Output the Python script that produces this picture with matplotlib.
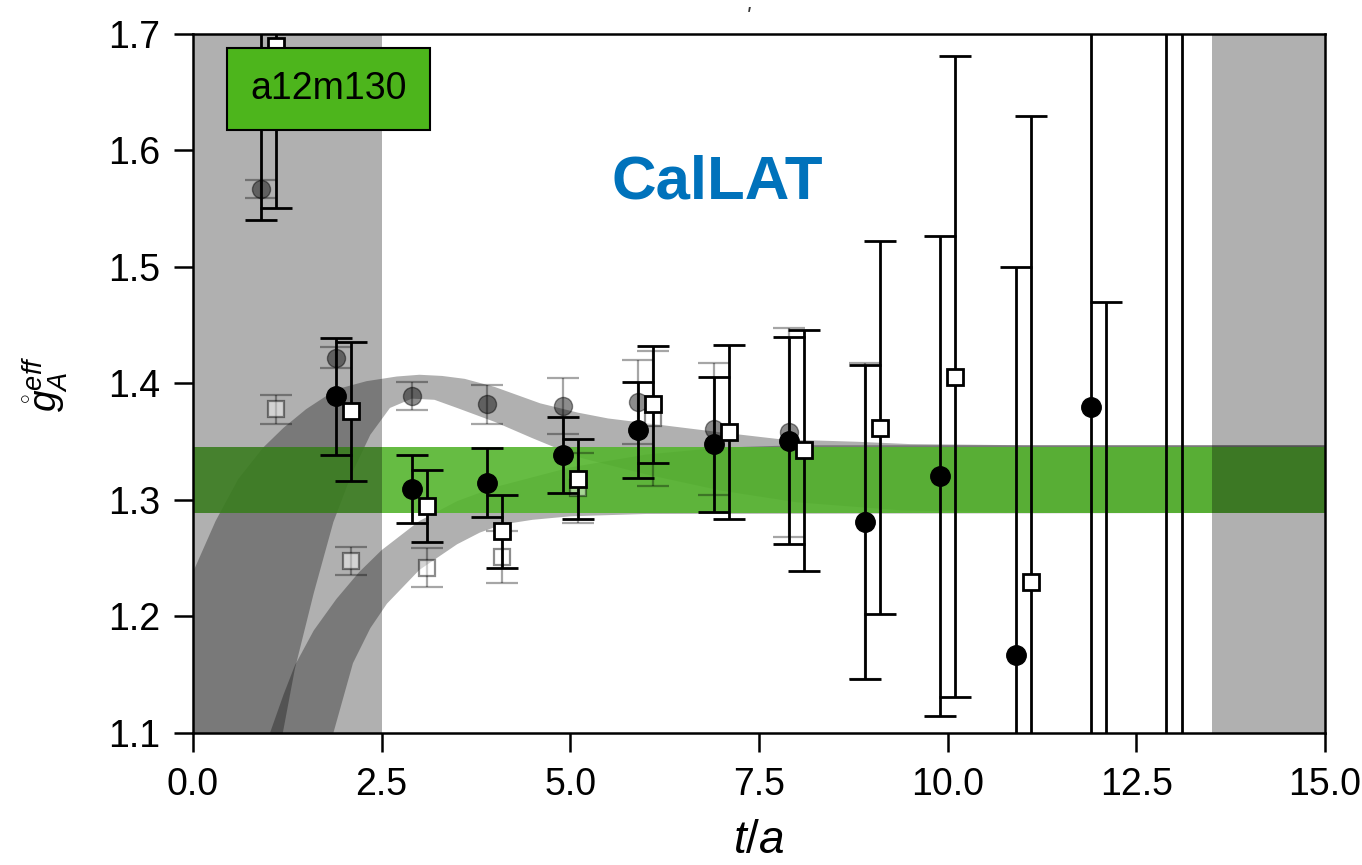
import numpy as np
import matplotlib
matplotlib.use("Agg")
import matplotlib.pyplot as plt

plt.rcParams['font.family'] = ['Liberation Sans', 'DejaVu Sans']
plt.rcParams['mathtext.fontset'] = 'custom'
plt.rcParams['mathtext.rm'] = 'Liberation Sans'
plt.rcParams['mathtext.it'] = 'Liberation Sans:italic'
plt.rcParams['mathtext.bf'] = 'Liberation Sans:bold'

# ---- effective g_A, two source/sink combinations (black = fit window) ----
t_circ = [0.9, 1.9, 2.9, 3.9, 4.9, 5.9, 6.9, 7.9, 8.9, 9.9, 10.9, 11.9, 12.9]
g_circ = [1.660, 1.389, 1.3095, 1.315, 1.3385, 1.360, 1.348, 1.351, 1.281, 1.321, 1.167, 1.380, 1.900]
e_circ = [0.120, 0.050, 0.0295, 0.030, 0.0325, 0.041, 0.058, 0.089, 0.135, 0.206, 0.333, 0.450, 1.000]

t_sq = [1.1, 2.1, 3.1, 4.1, 5.1, 6.1, 7.1, 8.1, 9.1, 10.1, 11.1, 12.1, 13.1]
g_sq = [1.690, 1.376, 1.295, 1.273, 1.318, 1.382, 1.3585, 1.3425, 1.362, 1.406, 1.230, 1.020, 0.900]
e_sq = [0.139, 0.060, 0.031, 0.031, 0.034, 0.050, 0.0745, 0.1035, 0.160, 0.275, 0.400, 0.450, 1.000]

# ---- companion correlator data (drawn faded) ----
t_circ_b = [0.9, 1.9, 2.9, 3.9, 4.9, 5.9, 6.9, 7.9, 8.9]
g_circ_b = [1.567, 1.422, 1.389, 1.382, 1.381, 1.384, 1.361, 1.358, 1.282]
e_circ_b = [0.008, 0.009, 0.012, 0.017, 0.024, 0.036, 0.057, 0.090, 0.136]

t_sq_b = [1.1, 2.1, 3.1, 4.1, 5.1, 6.1]
g_sq_b = [1.378, 1.248, 1.242, 1.251, 1.310, 1.370]
e_sq_b = [0.0125, 0.012, 0.017, 0.022, 0.030, 0.058]

# ---- fit bands (upper / lower edges) ----
band_a_top_t = [0.0, 0.3, 0.6, 0.93, 1.2, 1.5, 1.9, 2.3, 2.7, 3.0, 3.3, 3.6, 4.0,
                4.3, 4.6, 5.1, 5.5, 6.0, 6.5, 7.0, 7.8, 8.8, 9.5, 11.0, 15.0]
band_a_top = [1.238, 1.282, 1.318, 1.345, 1.362, 1.378, 1.395, 1.402, 1.406, 1.4075, 1.4065, 1.404, 1.397,
              1.390, 1.383, 1.375, 1.370, 1.366, 1.362, 1.358, 1.352, 1.350, 1.348, 1.347, 1.347]
band_a_bot_t = [0.0, 0.8, 1.19, 1.35, 1.6, 1.86, 2.1, 2.35, 2.61, 2.9, 3.2, 3.5, 4.0,
                4.5, 4.8, 5.15, 6.0, 7.0, 8.0, 9.4, 11.0, 15.0]
band_a_bot = [0.55, 0.96, 1.100, 1.155, 1.220, 1.281, 1.322, 1.356, 1.379, 1.387, 1.386, 1.379, 1.367,
              1.353, 1.345, 1.336, 1.322, 1.308, 1.298, 1.291, 1.289, 1.289]

band_b_top_t = [0.0, 0.6, 1.02, 1.2, 1.35, 1.6, 1.9, 2.2, 2.5, 3.0, 3.5, 4.0, 5.0, 6.0, 7.0, 8.0, 15.0]
band_b_top = [0.75, 0.98, 1.100, 1.133, 1.158, 1.188, 1.215, 1.238, 1.257, 1.282, 1.299, 1.311, 1.328,
              1.339, 1.345, 1.347, 1.347]
band_b_bot_t = [0.0, 1.2, 1.86, 2.12, 2.35, 2.57, 3.0, 3.5, 3.8, 4.1, 4.5, 5.0, 6.0, 15.0]
band_b_bot = [0.30, 0.85, 1.100, 1.160, 1.190, 1.211, 1.240, 1.262, 1.272, 1.279, 1.283, 1.286,
              1.288, 1.289]

# final result band and excluded time ranges
ga_lo, ga_hi = 1.2888, 1.3455
excluded = [(0.0, 2.5), (13.5, 15.0)]

x_ticks = [0.0, 2.5, 5.0, 7.5, 10.0, 12.5, 15.0]
y_ticks = [1.1, 1.2, 1.3, 1.4, 1.5, 1.6, 1.7]

fig = plt.figure(figsize=(13.62, 8.65), dpi=100)
ax = fig.add_axes([0.1417, 0.1526, 0.8311, 0.8081])

shade = dict(color='k', alpha=0.31, lw=0)

def band(t_top, y_top, t_bot, y_bot):
    xs = np.concatenate([t_top, t_bot[::-1]])
    ys = np.concatenate([y_top, y_bot[::-1]])
    ax.fill(xs, ys, zorder=1, **shade)

band(np.array(band_a_top_t), np.array(band_a_top), np.array(band_a_bot_t), np.array(band_a_bot))
band(np.array(band_b_top_t), np.array(band_b_top), np.array(band_b_bot_t), np.array(band_b_bot))

ax.axhspan(ga_lo, ga_hi, color='#55B52E', alpha=0.9, lw=0, zorder=2)
for lo, hi in excluded:
    ax.axvspan(lo, hi, zorder=3, **shade)

# faded companion points: bars and markers with separate opacity
eb = dict(capsize=11.5, elinewidth=1.6, capthick=1.6, fmt='none', ecolor='k')
ax.errorbar(t_circ_b, g_circ_b, yerr=e_circ_b, alpha=0.35, zorder=4, **eb)
ax.plot(t_circ_b, g_circ_b, 'o', color='k', ms=13, alpha=0.45, zorder=4)
ax.errorbar(t_sq_b, g_sq_b, yerr=e_sq_b, alpha=0.35, zorder=4, **eb)
ax.plot(t_sq_b, g_sq_b, 's', ms=11, mfc='white', mec='k', mew=1.6, alpha=0.45, zorder=4)

eb2 = dict(capsize=11.5, elinewidth=2.0, capthick=2.0, linestyle='none')
ax.errorbar(t_circ, g_circ, yerr=e_circ, fmt='o', color='k', ms=14, zorder=5, **eb2)
ax.errorbar(t_sq, g_sq, yerr=e_sq, fmt='s', color='k', ms=12, mfc='white',
            mec='k', mew=2.0, zorder=6, **eb2)

ax.set_xlim(0, 15)
ax.set_ylim(1.1, 1.7)
ax.set_xticks(x_ticks)
ax.set_xticklabels([f"{v:.1f}" for v in x_ticks])
ax.set_yticks(y_ticks)
ax.set_yticklabels([f"{v:.1f}" for v in y_ticks])
ax.tick_params(axis='both', direction='out', length=13.5, width=1.8, labelsize=27,
               top=False, right=False)
ax.tick_params(axis='x', pad=11)
ax.tick_params(axis='y', pad=10)
for s in ax.spines.values():
    s.set_linewidth(1.8)
    s.set_zorder(8)

ax.set_xlabel(r'$t/a$', fontsize=33)
ax.xaxis.set_label_coords(0.5, -0.155)
ax.xaxis.label.set_va('center')
ax.set_ylabel(r'$\mathring{g}_A^{eff}$', fontsize=28)
ax.yaxis.set_label_coords(-0.109, 0.5)

ax.text(0.120, 0.921, 'a12m130', transform=ax.transAxes, fontsize=27,
        ha='center', va='center', zorder=10,
        bbox=dict(boxstyle='square,pad=0.62', fc='#4DB51C', ec='k', lw=1.5))
ax.text(0.463, 0.787, 'CalLAT', transform=ax.transAxes, fontsize=44.5,
        fontweight='bold', color='#0072BB', ha='center', va='center', zorder=10)

fig.text(748 / 1362, 1 - 17 / 865, "'", fontsize=16, ha='center', va='center',
         style='italic', color='#333333')

fig.savefig('out.png', dpi=100)
